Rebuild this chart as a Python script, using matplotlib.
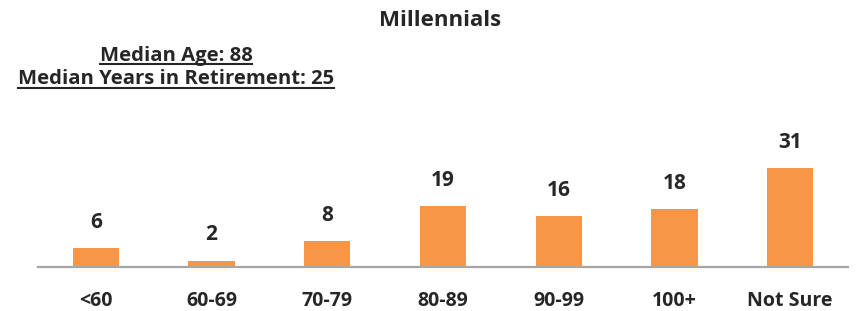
import matplotlib.pyplot as plt
from matplotlib.lines import Line2D

categories = ["<60", "60-69", "70-79", "80-89", "90-99", "100+", "Not Sure"]
values = [6, 2, 8, 19, 16, 18, 31]
title = "Millennials"
median_lines = ["Median Age: 88", "Median Years in Retirement: 25"]

bar_color = "#F79646"
text_color = "#262626"
axis_color = "#A6A6A6"

plt.rcParams["font.family"] = ["Open Sans", "DejaVu Sans"]
plt.rcParams["font.weight"] = "bold"

fig = plt.figure(figsize=(8.56, 3.11), dpi=100)
ax = fig.add_axes([38 / 856, 44 / 311, 810 / 856, 112 / 311])

ax.bar(categories, values, width=0.4, color=bar_color)
ax.set_xlim(-0.5, len(categories) - 0.5)
ax.set_ylim(0, 35)

for x, v in enumerate(values):
    ax.annotate(str(v), (x, v), xytext=(0, 11), textcoords="offset points",
                ha="center", va="bottom", fontsize=15, fontweight="bold",
                color=text_color)

for side in ["top", "left", "right"]:
    ax.spines[side].set_visible(False)
ax.spines["bottom"].set_color(axis_color)
ax.spines["bottom"].set_linewidth(1.6)
ax.set_yticks([])
ax.tick_params(axis="x", length=0, pad=17, labelsize=14, labelcolor=text_color)
for lbl in ax.get_xticklabels():
    lbl.set_fontweight("bold")

fig.text(440 / 856, 1 - 20.5 / 311, title, ha="center", va="center",
         fontsize=16, fontweight="bold", color=text_color)

subtitle_texts = []
for i, line in enumerate(median_lines):
    t = fig.text(176 / 856, 1 - (55.5 + 24 * i) / 311, line, ha="center",
                 va="center", fontsize=14.6, fontweight="bold", color=text_color)
    subtitle_texts.append(t)

# underline the median lines
fig.canvas.draw()
renderer = fig.canvas.get_renderer()
for t in subtitle_texts:
    bb = t.get_window_extent(renderer=renderer)
    y = (bb.y0 + 2) / fig.bbox.height
    fig.add_artist(Line2D([bb.x0 / fig.bbox.width, bb.x1 / fig.bbox.width], [y, y],
                          color=text_color, linewidth=1.5,
                          transform=fig.transFigure))

fig.savefig("out.png", dpi=100)
